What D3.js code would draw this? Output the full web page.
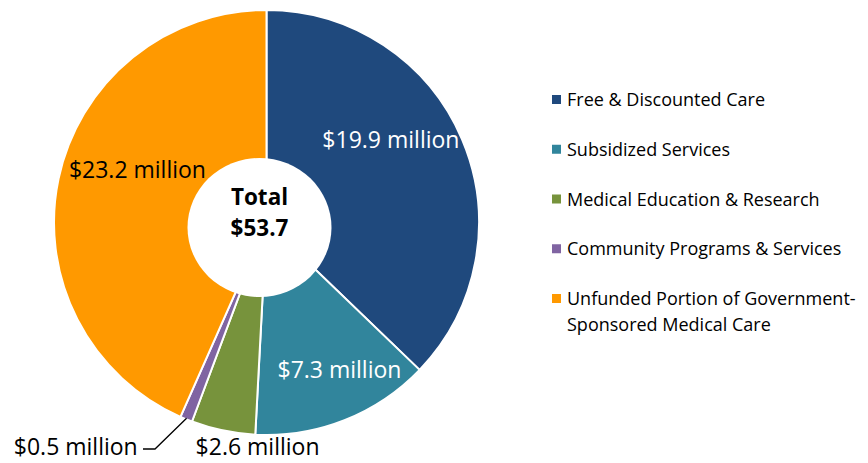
<!DOCTYPE html>
<html>
<head>
<meta charset="utf-8">
<script src="https://cdn.jsdelivr.net/npm/d3@7"></script>
<style>
  body { margin: 0; background: #fff; }
  text { font-family: "Open Sans", Lato, sans-serif; }
</style>
</head>
<body>
<svg width="868" height="463"></svg>
<script>
// data
var categories = ["Free & Discounted Care", "Subsidized Services", "Medical Education & Research",
                  "Community Programs & Services", "Unfunded Portion of Government-Sponsored Medical Care"];
var legendLines = [["Free & Discounted Care"], ["Subsidized Services"], ["Medical Education & Research"],
                   ["Community Programs & Services"], ["Unfunded Portion of Government-", "Sponsored Medical Care"]];
var values = [19.9, 7.3, 2.6, 0.5, 23.2];
var valueLabels = ["$19.9 million", "$7.3 million", "$2.6 million", "$0.5 million", "$23.2 million"];
var totalLabel = ["Total", "$53.7"];
var colors = ["#1f497d", "#31859c", "#77933c", "#8064a2", "#ff9900"];

// layout
var cx = 266.5, cy = 222.5, radius = 212.5;
// label placement: [angle in degrees clockwise from top, distance from centre]
var labelPlace = [[59.1, 145], [154.9, 172], [182.2, 232.5], [219.4, 300.5], [289, 136.5]];
var labelFill = ["#fff", "#fff", "#000", "#000", "#000"];

var svg = d3.select("svg");

var color = d3.scaleOrdinal().domain(categories).range(colors);

var pie = d3.pie().sort(null).value(function(d) { return d; });
var arcs = pie(values);

var arc = d3.arc().innerRadius(0).outerRadius(radius);

var g = svg.append("g").attr("transform", "translate(" + cx + "," + cy + ")");

g.selectAll("path")
    .data(arcs)
    .enter()
    .append("path")
    .attr("d", arc)
    .attr("fill", function(d, i) { return color(categories[i]); })
    .attr("stroke", "#fff")
    .attr("stroke-width", 2)
    .attr("stroke-linejoin", "round");

// white centre shape (sits slightly off the pie centre, as in the original)
svg.append("ellipse")
    .attr("cx", 259.5)
    .attr("cy", 227.5)
    .attr("rx", 72)
    .attr("ry", 69.5)
    .attr("fill", "#fff");

svg.append("text")
    .attr("x", 259.5).attr("y", 205)
    .attr("text-anchor", "middle")
    .attr("font-weight", "bold")
    .attr("font-size", 22.5)
    .text(totalLabel[0]);
svg.append("text")
    .attr("x", 259.5).attr("y", 236)
    .attr("text-anchor", "middle")
    .attr("font-weight", "bold")
    .attr("font-size", 22.5)
    .text(totalLabel[1]);

// value labels
g.selectAll("text.val")
    .data(arcs)
    .enter()
    .append("text")
    .attr("class", "val")
    .attr("text-anchor", "middle")
    .attr("font-size", 23)
    .attr("fill", function(d, i) { return labelFill[i]; })
    .attr("transform", function(d, i) {
      var p = d3.pointRadial(labelPlace[i][0] * Math.PI / 180, labelPlace[i][1]);
      return "translate(" + p[0] + "," + p[1] + ")";
    })
    .text(function(d, i) { return valueLabels[i]; });

// leader line for the small slice
var small = arcs[3];
var mid = (small.startAngle + small.endAngle) / 2;
var p0 = d3.pointRadial(mid, radius - 1);
g.append("path")
    .attr("d", d3.line()([p0, [155 - cx, 449 - cy], [143 - cx, 449 - cy]]))
    .attr("fill", "none")
    .attr("stroke", "#000")
    .attr("stroke-width", 1.3);

// legend
var rowY = d3.scaleLinear().domain([0, 4]).range([100, 299]);

var legend = svg.append("g")
    .selectAll("g")
    .data(categories)
    .enter()
    .append("g")
    .attr("transform", function(d, i) { return "translate(552," + rowY(i) + ")"; });

legend.append("rect")
    .attr("x", 0).attr("y", -5)
    .attr("width", 9).attr("height", 9)
    .attr("fill", function(d) { return color(d); });

legend.append("text")
    .attr("x", 15)
    .attr("y", 6)
    .attr("font-size", 18)
    .attr("fill", "#000")
    .selectAll("tspan")
    .data(function(d, i) { return legendLines[i]; })
    .enter()
    .append("tspan")
    .attr("x", 15)
    .attr("dy", function(d, j) { return j ? 26 : 0; })
    .text(function(d) { return d; });
</script>
</body>
</html>
